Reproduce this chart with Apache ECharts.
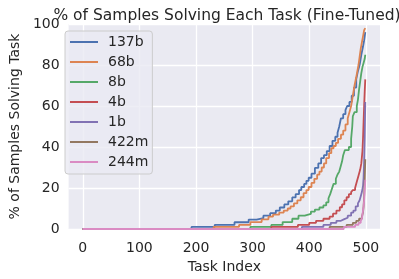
<!DOCTYPE html>
<html><head><meta charset="utf-8">
<script src="https://cdn.jsdelivr.net/npm/echarts@6/dist/echarts.min.js"></script>
<style>html,body{margin:0;padding:0;background:#fff}#c{width:399px;height:279px}</style>
</head><body><div id="c"></div>
<script>
const seriesNames = ['137b','68b','8b','4b','1b','422m','244m'];
const colors = ['#4C72B0','#DD8452','#55A868','#C44E52','#8172B3','#937860','#DA8BC3'];
const xTicks = [0,100,200,300,400,500];
const yTicks = [0,20,40,60,80,100];
// step breakpoints: [task index, % value from that index on]
const s137b = [[0,0],[192,1],[233,2],[268,3.3],[293,4.6],[307,5.3],[319,6.5],[331,7.7],[341,9],[348,10.5],[356,12],[363,13.5],[370,15.4],[376,17],[382,19],[386,20.5],[391,22],[395,23.5],[399,25],[404,27],[410,29.8],[416,32],[421,34.6],[426,36],[431,38],[436,40.5],[441,43],[446,45],[450,47],[453,50],[456,54],[460,56],[464,58],[467,60],[471,62],[475,65],[479,69],[483,73],[486,77],[489,80],[492,85],[495,89],[497,92],[499,96]];
const s68b = [[0,0],[231,1],[276,2],[296,3.4],[316,4.7],[328,6],[336,7],[347,8],[355,9],[362,10],[367,11],[373,12.5],[379,14],[385,15.5],[390,17.5],[395,19],[399,20.5],[404,22.5],[409,24.5],[414,26.5],[418,28],[422,30],[426,32],[430,34.6],[435,37],[439,39.4],[443,40.5],[447,42],[451,44],[456,46],[460,48],[464,51],[468,54],[471,57],[474,60],[477,65],[480,70],[483,74],[485,77],[487,80],[489,84],[491,88],[493,91],[495,94],[497,97],[499,98]];
const s8b = [[0,0],[296,1],[333,2],[353,3.4],[370,5],[381,6.5],[392,7.4],[403,8.5],[410,9.5],[418,10.5],[425,11.5],[430,13],[434,15],[437,17],[440,19.5],[443,22],[447,24.5],[450,26.6],[453,28],[455,30],[458,33],[460,36],[463,38.5],[470,40],[474,44],[476,50],[477,55],[480,57],[484,60],[486,63],[488,68],[490,72],[492,76],[494,79],[496,81],[498,83],[499,85]];
const s4b = [[0,0],[333,1],[380,2],[400,3],[412,4],[425,5],[436,6],[442,7.5],[448,9],[454,10.6],[458,12],[462,14],[466,15.5],[470,17],[474,18],[477,19],[481,20],[484,23],[487,26],[490,29],[492,32],[494,38],[495,44],[496,52],[497,60],[498,67],[499,73]];
const s1b = [[0,0],[387,1],[425,2],[438,3],[448,4],[456,4.8],[462,5.5],[468,6.5],[474,8],[478,9],[482,11],[486,12.5],[489,14],[491,16],[493,18],[495,21],[496,25],[497,33],[498,45],[499,62]];
const s422m = [[0,0],[436,1],[466,2],[477,3],[483,4],[488,5],[493,6],[495,8],[496,11],[497,16],[498,24],[499,34]];
const s244m = [[0,0],[461,1],[481,2],[487,3],[491,4],[493,5],[494,7],[495,9],[496,11],[497,14],[498,19],[499,24]];
const allData = [s137b,s68b,s8b,s4b,s1b,s422m,s244m];

const font = 'DejaVu Sans';
const txt = '#262626';
const chart = echarts.init(document.getElementById('c'), null, {renderer:'canvas'});
chart.setOption({
  animation:false,
  backgroundColor:'#ffffff',
  title:{text:'% of Samples Solving Each Task (Fine-Tuned)', left:222, textAlign:'center', top:3,
    textStyle:{fontFamily:font, fontSize:15.5, fontWeight:'normal', color:txt}},
  grid:{left:59, right:19, top:24, bottom:47, show:true, backgroundColor:'#EAEAF2', borderWidth:0},
  legend:{orient:'vertical', left:65, top:31, padding:[4,4,5,5], itemGap:6, itemWidth:28, itemHeight:2,
    icon:'rect', data:seriesNames,
    backgroundColor:'rgba(234,234,242,0.8)', borderColor:'#cccccc', borderWidth:1, borderRadius:3,
    textStyle:{fontFamily:font, fontSize:14, color:txt, lineHeight:14, padding:[0,0,0,5]}},
  xAxis:{type:'value', min:-25, max:525,
    name:'Task Index', nameLocation:'middle', nameGap:31,
    nameTextStyle:{fontFamily:font, fontSize:14, color:txt},
    axisLine:{show:false}, axisTick:{show:false, customValues:xTicks},
    axisLabel:{customValues:xTicks, fontFamily:font, fontSize:14, color:txt, margin:12},
    splitLine:{show:true, lineStyle:{color:'#ffffff', width:1.3}}},
  yAxis:{type:'value', min:0, max:100, interval:20,
    name:'% of Samples Solving Task', nameLocation:'middle', nameGap:40,
    nameTextStyle:{fontFamily:font, fontSize:14, color:txt},
    axisLine:{show:false}, axisTick:{show:false},
    axisLabel:{fontFamily:font, fontSize:14, color:txt, margin:9},
    splitLine:{show:true, lineStyle:{color:'#ffffff', width:1.3}}},
  series: seriesNames.map((n,i)=>({
    name:n, type:'line', step:'end', data:allData[i], showSymbol:false, symbol:'none',
    color:colors[i], lineStyle:{color:colors[i], width:1.8}, z:2+i
  }))
});
</script></body></html>
